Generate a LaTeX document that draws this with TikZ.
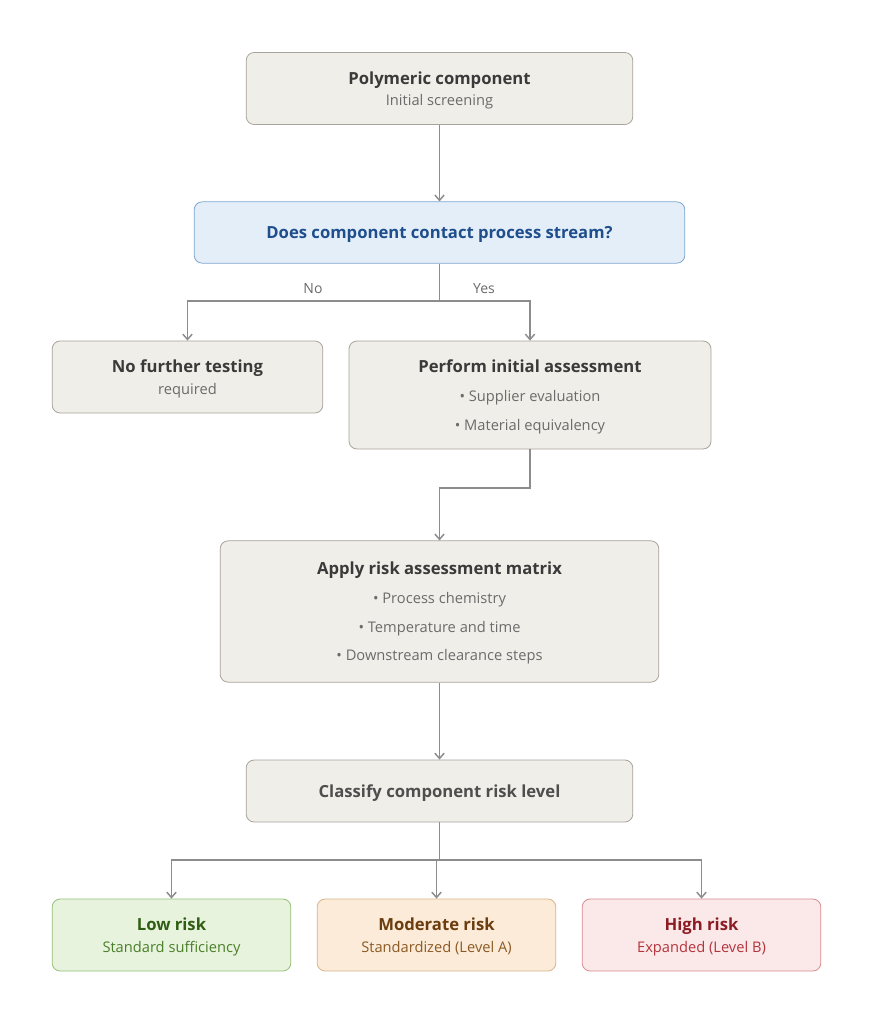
\documentclass[tikz,border=0pt]{standalone}
\usepackage{fontspec}
\setmainfont{Open Sans}
\usepackage{xcolor}
\usetikzlibrary{arrows.meta}

\definecolor{boxfill}{HTML}{F0EEE8}
\definecolor{boxline}{HTML}{A8A49C}
\definecolor{arrowgrey}{HTML}{8C8C8C}
\definecolor{titlegrey}{HTML}{3A3A3A}
\definecolor{subgrey}{HTML}{6B6B6B}
\definecolor{qfill}{HTML}{E3EEF9}
\definecolor{qline}{HTML}{7FA6CF}
\definecolor{qtext}{HTML}{1F4E8C}
\definecolor{lowfill}{HTML}{E8F3DE}
\definecolor{lowline}{HTML}{92C177}
\definecolor{lowtitle}{HTML}{2F5D12}
\definecolor{lowsub}{HTML}{4A7F2A}
\definecolor{modfill}{HTML}{FBEBD8}
\definecolor{modline}{HTML}{D9B48A}
\definecolor{modtitle}{HTML}{6B3D0E}
\definecolor{modsub}{HTML}{8C5A25}
\definecolor{highfill}{HTML}{FBE8E8}
\definecolor{highline}{HTML}{D98C8F}
\definecolor{hightitle}{HTML}{8B1C24}
\definecolor{highsub}{HTML}{B2353D}

\newcommand{\ttl}[1]{{\bfseries\fontsize{12.5}{17}\selectfont #1}}
\newcommand{\sbt}[1]{{\fontsize{11}{17}\selectfont #1}}

\tikzset{
  stage/.style={draw=boxline, fill=boxfill, rounded corners=6pt, line width=0.6pt,
    inner sep=0pt, text depth=0pt, align=center, text=titlegrey, font=\fontsize{11}{17}\selectfont},
  listbox/.style={stage, font=\fontsize{11}{21.5}\selectfont},
  question/.style={stage, draw=qline, fill=qfill, text=qtext},
  outcome/.style={stage, minimum width=179pt, minimum height=54pt},
  flow/.style={draw=arrowgrey, line width=1.1pt, -{Straight Barb[length=4pt,width=7pt]}},
  link/.style={draw=arrowgrey, line width=1.1pt},
  branch/.style={font=\fontsize{10.5}{12}\selectfont, text=subgrey}
}

\begin{document}
\begin{tikzpicture}[x=0.75pt,y=-0.75pt]
  \useasboundingbox[fill=white] (0,0) rectangle (879,1024);

  \node[stage, minimum width=290pt, minimum height=54pt] (start) at (439.5,88.5)
    {\ttl{Polymeric component}\\[-1pt]\color{subgrey}\sbt{Initial screening}};
  \node[question, minimum width=368pt, minimum height=46pt] (contact) at (439.5,232.5)
    {\ttl{Does component contact process stream?}};
  \node[stage, minimum width=203pt, minimum height=54pt] (nofurther) at (187.5,377)
    {\ttl{No further testing}\\[-1pt]\color{subgrey}\sbt{required}};
  \node[listbox, minimum width=271.5pt, minimum height=81pt] (initial) at (530,395)
    {\ttl{Perform initial assessment}\\
     \color{subgrey}\textbullet\ Supplier evaluation\\
     \color{subgrey}\textbullet\ Material equivalency};
  \node[listbox, minimum width=329pt, minimum height=106pt] (matrix) at (439.5,611.5)
    {\ttl{Apply risk assessment matrix}\\
     \color{subgrey}\textbullet\ Process chemistry\\
     \color{subgrey}\textbullet\ Temperature and time\\
     \color{subgrey}\textbullet\ Downstream clearance steps};
  \node[stage, minimum width=290pt, minimum height=46.5pt, text=titlegrey!90,
    font=\bfseries\fontsize{12.5}{17}\selectfont] (classify) at (439.5,791)
    {Classify component risk level};

  \node[outcome, draw=lowline, fill=lowfill, text=lowtitle] (low) at (171.5,935)
    {\ttl{Low risk}\\[-1pt]\color{lowsub}\sbt{Standard sufficiency}};
  \node[outcome, draw=modline, fill=modfill, text=modtitle] (moderate) at (436.5,935)
    {\ttl{Moderate risk}\\[-1pt]\color{modsub}\sbt{Standardized (Level A)}};
  \node[outcome, draw=highline, fill=highfill, text=hightitle] (high) at (701.5,935)
    {\ttl{High risk}\\[-1pt]\color{highsub}\sbt{Expanded (Level B)}};

  % connectors
  \coordinate (split) at (439.5,301);
  \coordinate (bend) at (530,488);
  \coordinate (fan) at (439.5,860);
  \draw[flow] (start) -- (contact);
  \draw[link] (contact) -- (split);
  \draw[flow] (split) -| (nofurther);
  \draw[flow] (split) -| (initial);
  \draw[flow] (initial) -- (bend) -| (matrix);
  \draw[flow] (matrix) -- (classify);
  \draw[link] (classify) -- (fan);
  \draw[flow] (fan) -| (low);
  \draw[flow] (fan) -| (moderate);
  \draw[flow] (fan) -| (high);

  \node[branch] (nolabel) at (313,289) {No};
  \node[branch] (yeslabel) at (484,289) {Yes};
\end{tikzpicture}
\end{document}
